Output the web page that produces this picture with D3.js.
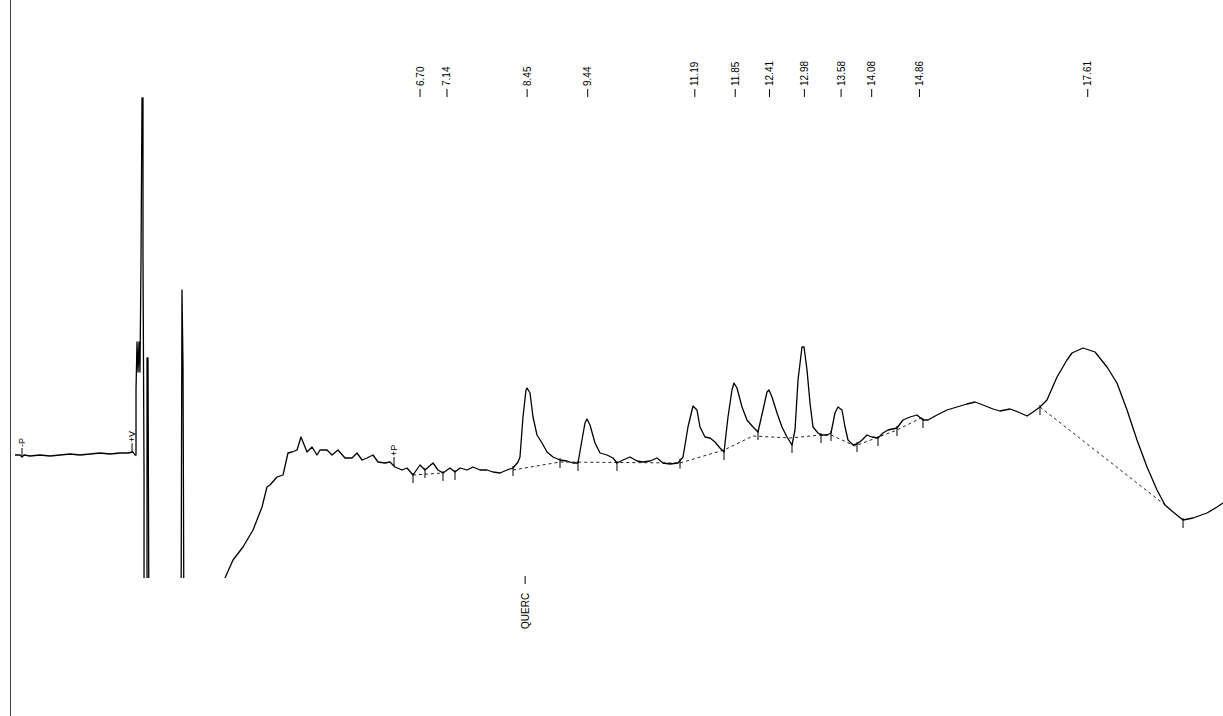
<!DOCTYPE html>
<html>
<head>
<meta charset="utf-8">
<script src="https://cdn.jsdelivr.net/npm/d3@7"></script>
<style>
  body { margin: 0; background: #fff; }
  svg { display: block; font-family: "Liberation Sans", Arial, sans-serif; }
</style>
</head>
<body>
<div id="chart"></div>
<script>
// retention times printed above the peaks (min)
const peakTimes = [6.70, 7.14, 8.45, 9.44, 11.19, 11.85, 12.41, 12.98, 13.58, 14.08, 14.86, 17.61];
// identified compounds
const compounds = [{ time: 8.45, name: 'QUERC' }];
// run events
const events = [
  { time: 0.196, name: '-P' },
  { time: 1.994, name: '+V' },
  { time: 6.275, name: '+P' },
];
// integration start / end markers
const markerTimes = [6.585, 6.781, 7.075, 7.271, 8.219, 8.987, 9.281, 9.918, 10.948, 11.667,
  12.222, 12.778, 13.252, 13.415, 13.840, 14.183, 14.493, 14.918, 16.830, 19.167];
// drawn baselines [time, signal]
const baselines = [
  [[6.585, 20.6], [7.075, 21.0]],
  [[8.219, 21.6], [8.987, 23.2], [10.948, 23.0], [11.667, 25.6], [12.141, 28.4], [12.745, 28.0],
   [13.252, 28.6], [13.415, 28.6], [13.807, 26.4], [14.493, 29.6], [14.918, 32.2]],
  [[16.830, 34.2], [18.873, 14.6]],
];
// detector trace [time (min), signal]
const trace = [
  [0.082, 24.6], [0.163, 24.6], [0.196, 24.2], [0.229, 24.6], [0.327, 24.4], [0.490, 24.6],
  [0.654, 24.4], [0.817, 24.6], [0.980, 24.8], [1.144, 24.6], [1.307, 24.8], [1.471, 25.0],
  [1.634, 24.8], [1.797, 25.0], [1.928, 25.0], [2.010, 25.2], [2.042, 24.6],
  [2.059, 24.6], [2.059, 37.6], [2.075, 47.2], [2.092, 41.2], [2.108, 47.2], [2.124, 41.2],
  [2.141, 64.2], [2.157, 96.0], [2.173, 96.0], [2.173, 64.2], [2.190, 21.0], [2.190, -14.4],
  [2.239, -14.4], [2.239, 44.0], [2.255, 44.0], [2.271, -14.4], [2.794, -14.4], [2.810, 57.6],
  [2.827, 42.6], [2.843, -14.4], [3.497, -14.4], [3.513, 0],
  [3.644, 3.6], [3.807, 6.2], [3.971, 9.6], [4.118, 14.2], [4.199, 18.2], [4.248, 18.6],
  [4.363, 20.2], [4.461, 20.6], [4.542, 25.0], [4.608, 25.2], [4.690, 25.6], [4.755, 28.2],
  [4.853, 25.2], [4.935, 26.2], [5.016, 24.6], [5.065, 25.6], [5.180, 25.6], [5.261, 24.6],
  [5.359, 25.6], [5.474, 24.0], [5.588, 24.0], [5.670, 25.0], [5.752, 23.6], [5.833, 24.0],
  [5.931, 24.6], [6.013, 23.2], [6.127, 23.0], [6.209, 23.2], [6.291, 22.2], [6.405, 21.6],
  [6.487, 22.0], [6.585, 20.6], [6.699, 22.6], [6.781, 21.6], [6.912, 23.0], [6.993, 21.6],
  [7.075, 21.0], [7.190, 22.0], [7.271, 21.2], [7.353, 22.0], [7.467, 21.6], [7.565, 22.2],
  [7.680, 21.6], [7.794, 21.6], [7.892, 21.2], [8.007, 21.0], [8.121, 21.6], [8.219, 22.0],
  [8.301, 23.2], [8.333, 24.2], [8.382, 32.2], [8.431, 37.6], [8.448, 38.0], [8.497, 37.0],
  [8.546, 32.2], [8.611, 28.6], [8.693, 27.0], [8.775, 25.2], [8.873, 24.2], [8.987, 23.6],
  [9.101, 23.4], [9.199, 23.0], [9.281, 23.0], [9.346, 27.6], [9.395, 31.0], [9.428, 31.8],
  [9.477, 30.6], [9.559, 27.0], [9.641, 25.0], [9.755, 24.6], [9.853, 24.0], [9.918, 23.0],
  [10.016, 23.6], [10.131, 24.2], [10.245, 23.4], [10.343, 23.2], [10.458, 23.4], [10.572, 24.0],
  [10.670, 23.0], [10.784, 22.8], [10.915, 23.0], [10.997, 24.2], [11.078, 30.2], [11.160, 34.4],
  [11.225, 33.6], [11.275, 30.2], [11.356, 28.2], [11.438, 28.0], [11.520, 27.2], [11.601, 26.0],
  [11.667, 25.2], [11.732, 32.2], [11.797, 37.6], [11.830, 39.0], [11.879, 38.0], [11.961, 34.2],
  [12.042, 31.6], [12.141, 30.2], [12.222, 29.2], [12.304, 33.6], [12.369, 37.2], [12.402, 37.6],
  [12.451, 36.2], [12.533, 33.0], [12.614, 30.2], [12.696, 28.2], [12.778, 26.6], [12.827, 29.6],
  [12.876, 39.6], [12.941, 46.2], [12.974, 46.2], [13.023, 41.6], [13.072, 35.0], [13.121, 30.2],
  [13.203, 29.0], [13.252, 28.6], [13.350, 28.6], [13.415, 29.0], [13.480, 33.0], [13.529, 34.2],
  [13.595, 33.6], [13.644, 30.2], [13.693, 27.6], [13.775, 26.6], [13.840, 26.8], [13.922, 27.6],
  [14.003, 28.6], [14.085, 28.2], [14.183, 28.0], [14.265, 29.0], [14.346, 29.6], [14.493, 30.0],
  [14.591, 31.6], [14.706, 32.2], [14.820, 32.6], [14.918, 31.6], [15.000, 31.6], [15.147, 32.6],
  [15.310, 33.6], [15.474, 34.2], [15.637, 34.8], [15.768, 35.2], [15.899, 34.6], [16.062, 33.8],
  [16.176, 33.4], [16.340, 33.8], [16.471, 33.2], [16.618, 32.4], [16.716, 33.2], [16.830, 34.2],
  [16.944, 35.6], [17.108, 40.2], [17.271, 43.6], [17.353, 45.0], [17.533, 46.0], [17.729, 45.2],
  [17.925, 42.2], [18.088, 39.0], [18.252, 33.6], [18.415, 27.6], [18.579, 22.2], [18.742, 17.6],
  [18.873, 14.6], [19.005, 13.2], [19.167, 11.6], [19.330, 12.0], [19.559, 13.0], [19.723, 14.2],
  [19.820, 15.0],
];

const width = 1223;
const height = 716;

const x = d3.scaleLinear().domain([0, 20]).range([10, 1234]);
const y = d3.scaleLinear().domain([0, 100]).range([578, 78]);

function valueAt(t) {
  for (let i = trace.length - 1; i > 0; i -= 1) {
    const a = trace[i - 1];
    const b = trace[i];
    if (a[0] <= t && t <= b[0]) {
      if (b[0] === a[0]) return b[1];
      return a[1] + (b[1] - a[1]) * (t - a[0]) / (b[0] - a[0]);
    }
  }
  return trace[0][1];
}

const svg = d3.select('#chart')
  .append('svg')
  .attr('width', width)
  .attr('height', height);

svg.append('rect').attr('width', width).attr('height', height).attr('fill', '#fff');

svg.append('defs').append('clipPath')
  .attr('id', 'plot-clip')
  .append('rect')
  .attr('x', 0)
  .attr('y', 0)
  .attr('width', width)
  .attr('height', y(0));

// left axis line
svg.append('line')
  .attr('x1', x(0) + 0.5).attr('x2', x(0) + 0.5)
  .attr('y1', 0).attr('y2', height)
  .attr('stroke', '#444')
  .attr('stroke-width', 1);

const line = d3.line().x(d => x(d[0])).y(d => y(d[1]));

// baselines
svg.append('g')
  .selectAll('path')
  .data(baselines)
  .join('path')
  .attr('d', line)
  .attr('fill', 'none')
  .attr('stroke', '#222')
  .attr('stroke-width', 1)
  .attr('stroke-dasharray', '3,3');

// trace
svg.append('path')
  .datum(trace)
  .attr('clip-path', 'url(#plot-clip)')
  .attr('d', line)
  .attr('fill', 'none')
  .attr('stroke', '#000')
  .attr('stroke-width', 1.3)
  .attr('stroke-linejoin', 'round');

// integration markers
svg.append('g')
  .selectAll('line')
  .data(markerTimes)
  .join('line')
  .attr('x1', d => x(d)).attr('x2', d => x(d))
  .attr('y1', d => y(valueAt(d)) - 2)
  .attr('y2', d => y(valueAt(d)) + 8)
  .attr('stroke', '#000')
  .attr('stroke-width', 1);

// events
const ev = svg.append('g').selectAll('g').data(events).join('g');
ev.append('line')
  .attr('x1', d => x(d.time)).attr('x2', d => x(d.time))
  .attr('y1', d => y(valueAt(d.time)))
  .attr('y2', d => y(valueAt(d.time)) - 9)
  .attr('stroke', '#000');
ev.append('text')
  .attr('transform', d => `translate(${x(d.time)},${y(valueAt(d.time)) - 10}) rotate(-90)`)
  .attr('dy', '0.35em')
  .style('font-size', '9px')
  .text(d => d.name);

// retention time labels
const rt = svg.append('g').selectAll('g').data(peakTimes).join('g');
rt.append('line')
  .attr('x1', d => x(d)).attr('x2', d => x(d))
  .attr('y1', 97).attr('y2', 89)
  .attr('stroke', '#000');
rt.append('text')
  .attr('transform', d => `translate(${x(d)},86) rotate(-90)`)
  .attr('dy', '0.35em')
  .style('font-size', '10px')
  .text(d => d.toFixed(2));

// compound names
const cp = svg.append('g').selectAll('g').data(compounds).join('g');
cp.append('text')
  .attr('transform', d => `translate(${x(d.time) - 2},629) rotate(-90)`)
  .attr('dy', '0.35em')
  .style('font-size', '10px')
  .text(d => d.name);
cp.append('line')
  .attr('x1', d => x(d.time) - 2).attr('x2', d => x(d.time) - 2)
  .attr('y1', 584).attr('y2', 576)
  .attr('stroke', '#000');
</script>
</body>
</html>
